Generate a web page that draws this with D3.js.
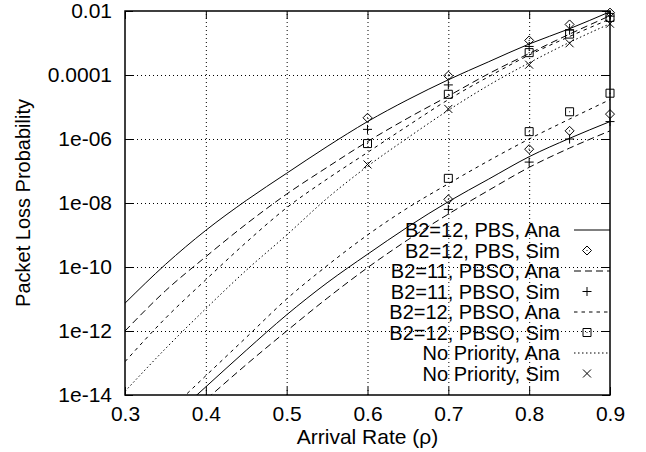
<!DOCTYPE html>
<html>
<head>
<meta charset="utf-8">
<script src="https://cdn.jsdelivr.net/npm/d3@7"></script>
<style>
  html, body { margin: 0; padding: 0; background: #fff; }
  svg { display: block; font-family: "Liberation Sans", Arial, Helvetica, sans-serif; }
</style>
</head>
<body>
<svg id="chart" width="646" height="452"></svg>
<script>
// Arrival rate grid used by the analytical curves
const rho = [0.30, 0.35, 0.40, 0.45, 0.50, 0.55, 0.60, 0.65, 0.70, 0.75, 0.80, 0.85, 0.90];

// Analytical packet loss probability, low-priority (LP) and high-priority (HP) class
const pbs12AnaLP  = [7.4e-12, 1.2e-10, 1.4e-9, 1.2e-8, 8.5e-8, 5.8e-7, 3.5e-6, 1.7e-5, 7.1e-5, 2.6e-4, 9.3e-4, 2.8e-3, 9.5e-3];
const pbs12AnaHP  = [1.3e-15, 1.8e-14, 2.5e-13, 3.2e-12, 3.2e-11, 2.5e-10, 1.8e-9, 1.1e-8, 5.6e-8, 2.8e-7, 1.05e-6, 3.5e-6];
const pbso11AnaLP = [1.0e-12, 1.8e-11, 2.1e-10, 2.2e-9, 1.9e-8, 1.3e-7, 8.3e-7, 4.5e-6, 2.2e-5, 1.1e-4, 4.7e-4, 1.9e-3, 7.1e-3];
const pbso11AnaHP = [5.6e-16, 7.1e-15, 8.9e-14, 1.0e-12, 1.05e-11, 9.5e-11, 7.1e-10, 4.5e-9, 2.5e-8, 1.3e-7, 5.2e-7, 1.8e-6];
const pbso12AnaLP = [1.1e-13, 2.5e-12, 4.0e-11, 5.9e-10, 7.1e-9, 5.6e-8, 3.8e-7, 2.6e-6, 1.7e-5, 8.9e-5, 4.2e-4, 1.6e-3, 5.6e-3];
const pbso12AnaHP = [2.5e-15, 4.0e-14, 6.3e-13, 1.0e-11, 1.1e-10, 1.0e-9, 7.1e-9, 4.0e-8, 2.1e-7, 1.0e-6, 4.2e-6, 1.7e-5];
const noPrioAna   = [1.3e-14, 2.8e-13, 5.0e-12, 7.9e-11, 1.0e-9, 1.4e-8, 1.4e-7, 1.1e-6, 7.9e-6, 4.8e-5, 2.4e-4, 1.05e-3, 4.0e-3];

// Simulation results
const simRhoLP = [0.6, 0.7, 0.8, 0.85, 0.9];
const simRhoHP = [0.7, 0.8, 0.85, 0.9];
const pbs12SimLP  = [4.6e-6, 9.5e-5, 1.2e-3, 3.8e-3, 8.9e-3];
const pbs12SimHP  = [1.3e-8, 4.8e-7, 1.8e-6, 6.0e-6];
const pbso11SimLP = [2.0e-6, 4.9e-5, 7.8e-4, 2.6e-3, 6.9e-3];
const pbso11SimHP = [6.3e-9, 1.9e-7, 1.0e-6, 3.5e-6];
const pbso12SimLP = [7.2e-7, 2.5e-5, 5.0e-4, 1.9e-3, 6.3e-3];
const pbso12SimHP = [5.9e-8, 1.7e-6, 7.1e-6, 2.7e-5];
const noPrioSim   = [1.6e-7, 8.7e-6, 2.1e-4, 9.8e-4, 4.0e-3];

// Axis ticks
const xTicks = [0.3, 0.4, 0.5, 0.6, 0.7, 0.8, 0.9];
const xTickLabels = ["0.3", "0.4", "0.5", "0.6", "0.7", "0.8", "0.9"];
const yTicks = [1e-2, 1e-4, 1e-6, 1e-8, 1e-10, 1e-12, 1e-14];
const yTickLabels = ["0.01", "0.0001", "1e-06", "1e-08", "1e-10", "1e-12", "1e-14"];

const legendLabels = [
  "B2=12, PBS, Ana", "B2=12, PBS, Sim",
  "B2=11, PBSO, Ana", "B2=11, PBSO, Sim",
  "B2=12, PBSO, Ana", "B2=12, PBSO, Sim",
  "No Priority, Ana", "No Priority, Sim"
];

// ---- layout ----
const plot = { left: 125, right: 610, top: 11, bottom: 395 };
const FONT = 21;
const KEY_FONT = 20;

const svg = d3.select("#chart");
const x = d3.scaleLinear().domain([0.3, 0.9]).range([plot.left, plot.right]);
const y = d3.scaleLog().domain([1e-14, 1e-2]).range([plot.bottom, plot.top]);

// grid
const gridStyle = sel => {
  sel.select(".domain").remove();
  sel.selectAll("text").remove();
  sel.selectAll("line").attr("stroke", "#000").attr("stroke-width", 1)
    .attr("stroke-dasharray", "1,3");
};
svg.append("g")
  .attr("transform", `translate(0,${plot.bottom})`)
  .call(d3.axisBottom(x).tickValues(xTicks.slice(1, -1)).tickSize(-(plot.bottom - plot.top)))
  .call(gridStyle);
svg.append("g")
  .attr("transform", `translate(${plot.left},0)`)
  .call(d3.axisLeft(y).tickValues(yTicks.slice(1, -1)).tickSize(-(plot.right - plot.left)))
  .call(gridStyle);

// clip region for the curves
svg.append("clipPath").attr("id", "plotClip")
  .append("rect")
  .attr("x", plot.left).attr("y", plot.top)
  .attr("width", plot.right - plot.left).attr("height", plot.bottom - plot.top);

// ---- analytical curves ----
const anaSeries = [
  { label: legendLabels[0], dash: null,      branches: [pbs12AnaLP, pbs12AnaHP] },
  { label: legendLabels[2], dash: "7,4",     branches: [pbso11AnaLP, pbso11AnaHP] },
  { label: legendLabels[4], dash: "3.5,4",   branches: [pbso12AnaLP, pbso12AnaHP] },
  { label: legendLabels[6], dash: "1.5,2.5", branches: [noPrioAna] }
];

const line = d3.line()
  .x(d => x(d[0]))
  .y(d => y(d[1]))
  .curve(d3.curveMonotoneX);

const curves = svg.append("g").attr("clip-path", "url(#plotClip)");
anaSeries.forEach(s => {
  s.branches.forEach(vals => {
    // high-priority branches start at the second rate value
    const xs = vals.length === rho.length ? rho : rho.slice(rho.length - vals.length);
    curves.append("path")
      .datum(xs.map((r, i) => [r, vals[i]]))
      .attr("fill", "none")
      .attr("stroke", "#000")
      .attr("stroke-width", 1)
      .attr("stroke-dasharray", s.dash)
      .attr("d", line);
  });
});

// ---- simulation markers ----
const R = 4.5;
const symbolPaths = {
  diamond: `M0,${-R}L${R},0L0,${R}L${-R},0Z`,
  plus:    `M${-R},0H${R}M0,${-R}V${R}`,
  square:  `M${-R + 0.5},${-R + 0.5}H${R - 0.5}V${R - 0.5}H${-R + 0.5}Z`,
  cross:   `M${-R + 0.5},${-R + 0.5}L${R - 0.5},${R - 0.5}M${R - 0.5},${-R + 0.5}L${-R + 0.5},${R - 0.5}`
};
const dotted = { diamond: true, square: true, plus: false, cross: false };

function drawMarker(parent, cx, cy, kind) {
  const g = parent.append("g").attr("transform", `translate(${cx},${cy})`);
  g.append("path").attr("d", symbolPaths[kind])
    .attr("fill", "none").attr("stroke", "#000").attr("stroke-width", 1);
  if (dotted[kind]) {
    g.append("circle").attr("r", 0.6).attr("fill", "#000");
  }
}

const simSeries = [
  { label: legendLabels[1], symbol: "diamond", sets: [[simRhoLP, pbs12SimLP], [simRhoHP, pbs12SimHP]] },
  { label: legendLabels[3], symbol: "plus",    sets: [[simRhoLP, pbso11SimLP], [simRhoHP, pbso11SimHP]] },
  { label: legendLabels[5], symbol: "square",  sets: [[simRhoLP, pbso12SimLP], [simRhoHP, pbso12SimHP]] },
  { label: legendLabels[7], symbol: "cross",   sets: [[simRhoLP, noPrioSim]] }
];

const marks = svg.append("g");
simSeries.forEach(s => {
  s.sets.forEach(([xs, ys]) => {
    xs.forEach((r, i) => drawMarker(marks, x(r), y(ys[i]), s.symbol));
  });
});

// ---- axes (ticks pointing inward, mirrored on top and right) ----
const axisStyle = sel => {
  sel.select(".domain").remove();
  sel.selectAll("line").attr("stroke", "#000").attr("stroke-width", 1);
  sel.selectAll("text").attr("fill", "#000")
    .attr("font-size", FONT)
    .attr("font-family", "'Liberation Sans', Arial, Helvetica, sans-serif");
};
const TICK = 8;

svg.append("g")
  .attr("transform", `translate(0,${plot.bottom})`)
  .call(d3.axisBottom(x).tickValues(xTicks)
    .tickFormat((d, i) => xTickLabels[i])
    .tickSizeInner(-TICK).tickSizeOuter(0).tickPadding(11))
  .call(axisStyle);

svg.append("g")
  .attr("transform", `translate(0,${plot.top})`)
  .call(d3.axisTop(x).tickValues(xTicks).tickFormat("")
    .tickSizeInner(-TICK).tickSizeOuter(0))
  .call(axisStyle);

svg.append("g")
  .attr("transform", `translate(${plot.left},0)`)
  .call(d3.axisLeft(y).tickValues(yTicks)
    .tickFormat((d, i) => yTickLabels[i])
    .tickSizeInner(-TICK).tickSizeOuter(0).tickPadding(13))
  .call(axisStyle);

svg.append("g")
  .attr("transform", `translate(${plot.right},0)`)
  .call(d3.axisRight(y).tickValues(yTicks).tickFormat("")
    .tickSizeInner(-TICK).tickSizeOuter(0))
  .call(axisStyle);

// frame
svg.append("rect")
  .attr("x", plot.left).attr("y", plot.top)
  .attr("width", plot.right - plot.left).attr("height", plot.bottom - plot.top)
  .attr("fill", "none").attr("stroke", "#000").attr("stroke-width", 1.5);

// axis titles
svg.append("text")
  .attr("x", (plot.left + plot.right) / 2).attr("y", 444)
  .attr("text-anchor", "middle").attr("font-size", FONT).attr("fill", "#000")
  .text("Arrival Rate (ρ)");

svg.append("text")
  .attr("transform", `translate(30,${(plot.top + plot.bottom) / 2}) rotate(-90)`)
  .attr("text-anchor", "middle").attr("font-size", 20).attr("fill", "#000")
  .text("Packet Loss Probability");

// ---- key ----
const key = { textRight: 560, sampleX0: 574, sampleX1: 610, markX: 587, row0: 230, rowH: 20.5 };
const keyItems = [];
anaSeries.forEach((s, i) => {
  keyItems.push({ label: s.label, dash: s.dash, type: "line" });
  keyItems.push({ label: simSeries[i].label, symbol: simSeries[i].symbol, type: "mark" });
});
const keyG = svg.append("g");
keyItems.forEach((it, i) => {
  const cy = key.row0 + i * key.rowH;
  keyG.append("text")
    .attr("x", key.textRight).attr("y", cy).attr("dy", "0.35em")
    .attr("text-anchor", "end").attr("font-size", KEY_FONT).attr("fill", "#000")
    .text(it.label);
  if (it.type === "line") {
    keyG.append("line")
      .attr("x1", key.sampleX0).attr("x2", key.sampleX1)
      .attr("y1", cy).attr("y2", cy)
      .attr("stroke", "#000").attr("stroke-width", 1)
      .attr("stroke-dasharray", it.dash);
  } else {
    drawMarker(keyG, key.markX, cy, it.symbol);
  }
});
</script>
</body>
</html>
